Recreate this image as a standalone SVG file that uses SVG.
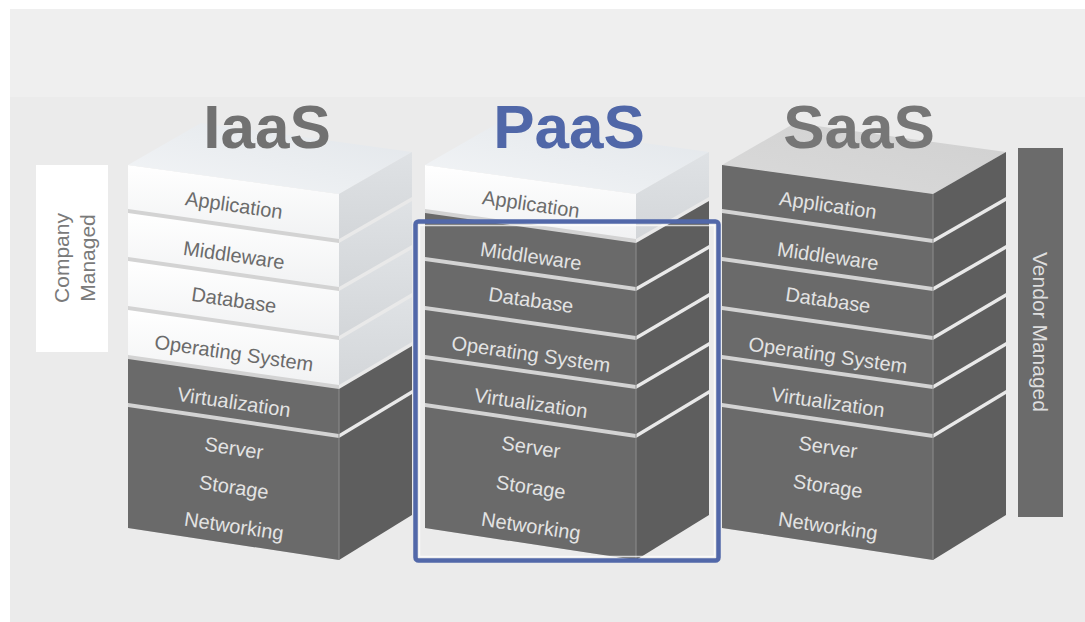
<svg xmlns="http://www.w3.org/2000/svg" xmlns:xlink="http://www.w3.org/1999/xlink" width="1085" height="622" viewBox="0 0 1085 622">
  <style>
    .title { font-family: "Liberation Sans", Arial, sans-serif; font-weight: bold; font-size: 62px; text-anchor: middle; }
    .lbl { font-family: "Liberation Sans", Arial, sans-serif; font-size: 20px; text-anchor: middle; dominant-baseline: central; }
    .lbl-light { fill: #6b6b6b; }
    .lbl-dark { fill: #e3e3e3; }
    .side-lbl { font-family: "Liberation Sans", Arial, sans-serif; font-size: 21px; text-anchor: middle; dominant-baseline: central; }
    .wf { fill: url(#whiteFront); }
    .ws { fill: url(#whiteSide); }
    .df { fill: #6a6a6a; }
    .ds { fill: #5e5e5e; }
    .sepf { fill: #d3d3d3; }
    .seps { fill: #e9e9e9; }
    .edge { stroke: #8d8d8d; stroke-width: 1; }
  </style>
  <defs>
    <linearGradient id="whiteFront" x1="0" y1="0" x2="0" y2="1">
      <stop offset="0" stop-color="#ffffff"/>
      <stop offset="1" stop-color="#f1f2f3"/>
    </linearGradient>
    <linearGradient id="whiteSide" x1="0" y1="0" x2="0" y2="1">
      <stop offset="0" stop-color="#dfe2e5"/>
      <stop offset="1" stop-color="#d3d6d9"/>
    </linearGradient>
    <linearGradient id="lightTop" x1="0" y1="1" x2="1" y2="0">
      <stop offset="0" stop-color="#f3f5f7"/>
      <stop offset="1" stop-color="#e2e6ea"/>
    </linearGradient>
    <linearGradient id="grayTop" x1="0" y1="1" x2="1" y2="0">
      <stop offset="0" stop-color="#dadada"/>
      <stop offset="1" stop-color="#d0d0d0"/>
    </linearGradient>

    <!-- block geometry, front-left edge at x=0 -->
    <path id="frontAll" d="M0,165 L211,194 L211,560 L0,528 Z"/>
    <path id="sideAll" d="M211,194 L284,152 L284,515 L211,560 Z"/>
    <path id="top" d="M0,165 L211,194 L284,152 L73,123 Z"/>
    <path id="f0" d="M0,165 L211,194 L211,239 L0,209 Z"/>
    <path id="f1" d="M0,213 L211,243 L211,287 L0,257 Z"/>
    <path id="f2" d="M0,261 L211,291 L211,336 L0,306 Z"/>
    <path id="f3" d="M0,310 L211,340 L211,385 L0,355 Z"/>
    <path id="f4" d="M0,359 L211,389 L211,434 L0,403 Z"/>
    <path id="f5" d="M0,407 L211,438 L211,560 L0,528 Z"/>
    <path id="s0" d="M211,194 L284,152 L284,197 L211,239 Z"/>
    <path id="s1" d="M211,243 L284,201 L284,245 L211,287 Z"/>
    <path id="s2" d="M211,291 L284,249 L284,293 L211,336 Z"/>
    <path id="s3" d="M211,340 L284,297 L284,342 L211,385 Z"/>
    <path id="s4" d="M211,389 L284,346 L284,390 L211,434 Z"/>
    <path id="s5" d="M211,438 L284,394 L284,515 L211,560 Z"/>
  </defs>

  <!-- background -->
  <rect x="0" y="0" width="1085" height="622" fill="#ffffff"/>
  <rect x="10" y="9" width="1075" height="613" fill="#ebebeb"/>
  <rect x="10" y="9" width="1075" height="88" fill="#efefef"/>

  <!-- left side label -->
  <g id="company-managed">
    <rect x="36" y="165" width="72" height="187" fill="#ffffff"/>
    <text class="side-lbl" fill="#7a7a7a" transform="translate(61 258) rotate(-90)">Company</text>
    <text class="side-lbl" fill="#7a7a7a" transform="translate(87 258) rotate(-90)">Managed</text>
  </g>

  <!-- IaaS stack -->
  <g id="iaas" transform="translate(128 0)">
    <use xlink:href="#frontAll" class="sepf"/>
    <use xlink:href="#sideAll" class="seps"/>
    <use xlink:href="#top" fill="url(#lightTop)"/>
    <use xlink:href="#f0" class="wf"/><use xlink:href="#s0" class="ws"/>
    <use xlink:href="#f1" class="wf"/><use xlink:href="#s1" class="ws"/>
    <use xlink:href="#f2" class="wf"/><use xlink:href="#s2" class="ws"/>
    <use xlink:href="#f3" class="wf"/><use xlink:href="#s3" class="ws"/>
    <use xlink:href="#f4" class="df"/><use xlink:href="#s4" class="ds"/>
    <use xlink:href="#f5" class="df"/><use xlink:href="#s5" class="ds"/>
    <line class="edge" x1="211" y1="389" x2="211" y2="560"/>
    <text class="title" x="139" y="148" fill="#717171">IaaS</text>
    <g transform="translate(106 0)">
      <text class="lbl lbl-light" transform="translate(0 205) rotate(8.2)">Application</text>
      <text class="lbl lbl-light" transform="translate(0 255) rotate(8.2)">Middleware</text>
      <text class="lbl lbl-light" transform="translate(0 300) rotate(8.2)">Database</text>
      <text class="lbl lbl-light" transform="translate(0 353) rotate(8.2)">Operating System</text>
      <text class="lbl lbl-dark" transform="translate(0 402) rotate(8.2)">Virtualization</text>
      <text class="lbl lbl-dark" transform="translate(0 448) rotate(8.4)">Server</text>
      <text class="lbl lbl-dark" transform="translate(0 487) rotate(8.4)">Storage</text>
      <text class="lbl lbl-dark" transform="translate(0 526) rotate(8.4)">Networking</text>
    </g>
  </g>

  <!-- PaaS stack -->
  <g id="paas" transform="translate(425 0)">
    <use xlink:href="#frontAll" class="sepf"/>
    <use xlink:href="#sideAll" class="seps"/>
    <use xlink:href="#top" fill="url(#lightTop)"/>
    <use xlink:href="#f0" class="wf"/><use xlink:href="#s0" class="ws"/>
    <use xlink:href="#f1" class="df"/><use xlink:href="#s1" class="ds"/>
    <use xlink:href="#f2" class="df"/><use xlink:href="#s2" class="ds"/>
    <use xlink:href="#f3" class="df"/><use xlink:href="#s3" class="ds"/>
    <use xlink:href="#f4" class="df"/><use xlink:href="#s4" class="ds"/>
    <use xlink:href="#f5" class="df"/><use xlink:href="#s5" class="ds"/>
    <line class="edge" x1="211" y1="243" x2="211" y2="560"/>
    <text class="title" x="144" y="148" fill="#5067a8">PaaS</text>
    <g transform="translate(106 0)">
      <text class="lbl lbl-light" transform="translate(0 204) rotate(8.2)">Application</text>
      <text class="lbl lbl-dark" transform="translate(0 256) rotate(8.2)">Middleware</text>
      <text class="lbl lbl-dark" transform="translate(0 300) rotate(8.2)">Database</text>
      <text class="lbl lbl-dark" transform="translate(0 354) rotate(8.2)">Operating System</text>
      <text class="lbl lbl-dark" transform="translate(0 403) rotate(8.2)">Virtualization</text>
      <text class="lbl lbl-dark" transform="translate(0 447) rotate(8.4)">Server</text>
      <text class="lbl lbl-dark" transform="translate(0 487) rotate(8.4)">Storage</text>
      <text class="lbl lbl-dark" transform="translate(0 526) rotate(8.4)">Networking</text>
    </g>
  </g>

  <!-- PaaS highlight frame -->
  <g id="paas-frame" fill="none">
    <rect x="415.5" y="221.5" width="303" height="339" rx="3" stroke="#5268a9" stroke-width="4.5"/>
    <rect x="419.5" y="225.5" width="295" height="331" stroke="#ffffff" stroke-opacity="0.75" stroke-width="1.5"/>
  </g>

  <!-- SaaS stack -->
  <g id="saas" transform="translate(722 0)">
    <use xlink:href="#frontAll" class="sepf"/>
    <use xlink:href="#sideAll" class="seps"/>
    <use xlink:href="#top" fill="url(#grayTop)"/>
    <use xlink:href="#f0" class="df"/><use xlink:href="#s0" class="ds"/>
    <use xlink:href="#f1" class="df"/><use xlink:href="#s1" class="ds"/>
    <use xlink:href="#f2" class="df"/><use xlink:href="#s2" class="ds"/>
    <use xlink:href="#f3" class="df"/><use xlink:href="#s3" class="ds"/>
    <use xlink:href="#f4" class="df"/><use xlink:href="#s4" class="ds"/>
    <use xlink:href="#f5" class="df"/><use xlink:href="#s5" class="ds"/>
    <line class="edge" x1="211" y1="194" x2="211" y2="560"/>
    <text class="title" x="137" y="148" fill="#767676">SaaS</text>
    <g transform="translate(106 0)">
      <text class="lbl lbl-dark" transform="translate(0 205) rotate(8.2)">Application</text>
      <text class="lbl lbl-dark" transform="translate(0 256) rotate(8.2)">Middleware</text>
      <text class="lbl lbl-dark" transform="translate(0 300) rotate(8.2)">Database</text>
      <text class="lbl lbl-dark" transform="translate(0 355) rotate(8.2)">Operating System</text>
      <text class="lbl lbl-dark" transform="translate(0 402) rotate(8.2)">Virtualization</text>
      <text class="lbl lbl-dark" transform="translate(0 447) rotate(8.4)">Server</text>
      <text class="lbl lbl-dark" transform="translate(0 486) rotate(8.4)">Storage</text>
      <text class="lbl lbl-dark" transform="translate(0 526) rotate(8.4)">Networking</text>
    </g>
  </g>

  <!-- right side label -->
  <g id="vendor-managed">
    <rect x="1018" y="148" width="45" height="369" fill="#6b6b6b"/>
    <text class="side-lbl" fill="#dedede" transform="translate(1040.5 332) rotate(90)">Vendor Managed</text>
  </g>
</svg>
